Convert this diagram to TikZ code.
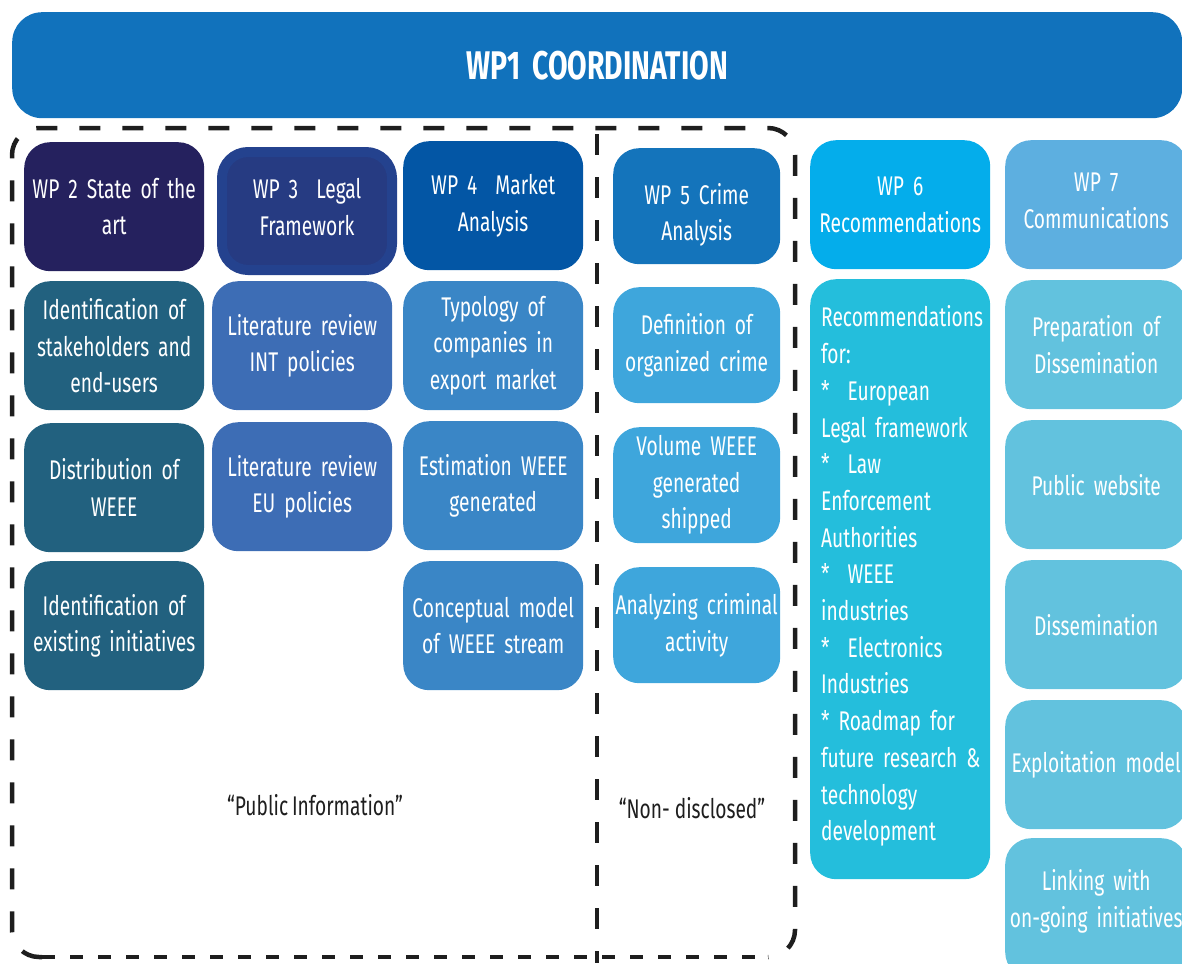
\documentclass[tikz,border=0pt]{standalone}
\usepackage{fontspec}
\setmainfont{Fira Sans}[FakeStretch=0.71, WordSpace=0.75]
\definecolor{wpone}{HTML}{1172BC}
\definecolor{wptwo}{HTML}{25215E}
\definecolor{wpthree}{HTML}{263B82}
\definecolor{wpthreerim}{HTML}{24428E}
\definecolor{wpfour}{HTML}{0356A5}
\definecolor{wpfive}{HTML}{1474BB}
\definecolor{wpsix}{HTML}{04ADEB}
\definecolor{wpseven}{HTML}{5DAFE0}
\definecolor{taskA}{HTML}{22617F}
\definecolor{taskB}{HTML}{3D6DB5}
\definecolor{taskC}{HTML}{3A86C6}
\definecolor{taskD}{HTML}{3EA6DC}
\definecolor{taskE}{HTML}{24BEDC}
\definecolor{taskF}{HTML}{62C2DE}
\definecolor{frame}{HTML}{1E1E1E}
\begin{document}
\begin{tikzpicture}[x=1pt, y=-1pt,
    every node/.style={inner sep=0pt, align=center, text=white, font=\fontsize{27}{36.5}\selectfont},
    wpbox/.style={rounded corners=26pt, anchor=north west, minimum width=180pt, minimum height=129pt, text width=176pt},
    crimebox/.style={wpbox, minimum width=167pt, minimum height=116pt, text width=165pt},
    commbox/.style={wpbox, fill=taskF, minimum width=182pt, text width=176pt},
    infolabel/.style={text=frame},
    framed/.style={draw=frame, line width=4.5pt, dash pattern=on 21pt off 22pt}]

  \useasboundingbox (0,0) rectangle (1182,963);

  % coordination banner
  \node[anchor=north west, fill=wpone, rounded corners=30pt, minimum width=1170pt, minimum height=106pt,
        font=\fontsize{40}{44}\bfseries] (wp1) at (12,12) {WP1\hspace{12pt}COORDINATION};

  % public / non-disclosed frame
  \draw[framed, rounded corners=27pt] (42,957) -- (12,957) -- (12,128) -- (795,128) -- (795,957) -- (768,957);
  \draw[framed, dash pattern=on 13pt off 15pt] (42,957) -- (768,957);
  \draw[framed] (597,134) -- (597,963);

  % WP 2
  \node[wpbox, fill=wptwo] (wp2) at (24,142) {WP 2 State of the\\art};
  \node[wpbox, fill=taskA] (wp2a) at (24,281) {Identification of\\stakeholders and\\end-users};
  \node[wpbox, fill=taskA] (wp2b) at (24,423) {Distribution of\\WEEE};
  \node[wpbox, fill=taskA] (wp2c) at (24,561) {Identification of\\existing initiatives};

  % WP 3
  \node[wpbox, fill=wpthree, draw=wpthreerim, line width=10pt, minimum width=170pt,
        minimum height=118pt, text width=160pt] (wp3) at (217,147) {WP 3~ Legal\\Framework\\[-28.5pt]\mbox{}};
  \node[wpbox, fill=taskB] (wp3a) at (212,281) {Literature review\\INT policies};
  \node[wpbox, fill=taskB] (wp3b) at (212,422) {Literature review\\EU policies};

  % WP 4
  \node[wpbox, fill=wpfour] (wp4) at (403,141) {WP 4~ Market\\Analysis};
  \node[wpbox, fill=taskC] (wp4a) at (403,281) {Typology of\\companies in\\export market};
  \node[wpbox, fill=taskC] (wp4b) at (403,421) {Estimation WEEE\\generated};
  \node[wpbox, fill=taskC] (wp4c) at (403,561) {Conceptual model\\of WEEE stream};

  % WP 5
  \node[crimebox, fill=wpfive] (wp5) at (613,148) {WP 5 Crime\\Analysis\\[-48.5pt]\mbox{}};
  \node[crimebox, fill=taskD] (wp5a) at (613,287) {Definition of\\organized crime};
  \node[crimebox, fill=taskD] (wp5b) at (613,427) {Volume WEEE\\generated\\shipped};
  \node[crimebox, fill=taskD] (wp5c) at (613,567) {Analyzing criminal\\activity};

  % WP 6
  \node[wpbox, fill=wpsix] (wp6) at (810,140) {WP 6\\Recommendations};
  \node[wpbox, fill=taskE, minimum height=600pt, text width=158pt, align=left,
        font=\fontsize{27}{36.7}\selectfont] (wp6a) at (810,279)
    {Recommendations\\for:\\{*}~ European\\Legal framework\\{*}~ Law\\Enforcement\\Authorities\\{*}~ WEEE\\industries\\{*}~ Electronics\\Industries\\{*} Roadmap for\\\mbox{future research \&}\\technology\\development\\[-25pt]\mbox{}};

  % WP 7
  \node[commbox, fill=wpseven] (wp7) at (1005,140) {WP 7\\Communications\\[-28.5pt]\mbox{}};
  \node[commbox] (wp7a) at (1005,280) {Preparation of\\Dissemination};
  \node[commbox] (wp7b) at (1005,420) {Public website};
  \node[commbox] (wp7c) at (1005,560) {Dissemination};
  \node[commbox] (wp7d) at (1005,700) {Exploitation model};
  \node[commbox, minimum height=140pt] (wp7e) at (1005,838) {Linking with\\on-going initiatives\\[-17.5pt]\mbox{}};

  % information labels
  \node[infolabel] (public) at (315,805) {“Public Information”};
  \node[infolabel] (secret) at (692,808) {“Non-\hspace{5pt}disclosed”};

\end{tikzpicture}
\end{document}
